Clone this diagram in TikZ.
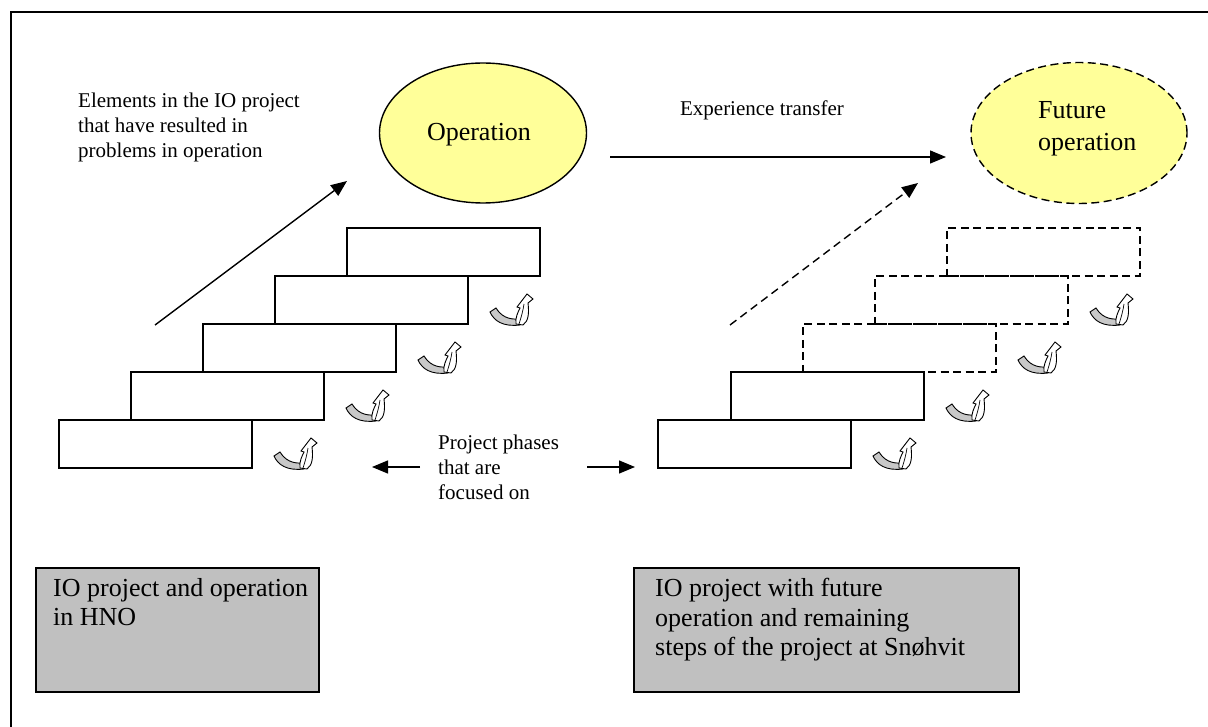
\documentclass[tikz,border=0pt]{standalone}
\usepackage{fontspec}
\setmainfont{Liberation Serif}
\usetikzlibrary{arrows.meta,shapes.geometric}

\definecolor{opyellow}{HTML}{FFFF99}
\definecolor{boxgray}{HTML}{C0C0C0}
\definecolor{ribbon}{HTML}{C8C8C8}

\newcommand{\smalltext}{\fontsize{21}{25}\selectfont}
\newcommand{\bigtext}{\fontsize{26}{29.5}\selectfont}

\tikzset{
  stepbox/.style={draw, line width=1.4pt, fill=white, minimum width=193pt,
    minimum height=48pt, anchor=north west, inner sep=0pt, outer sep=0pt},
  plannedbox/.style={stepbox, fill=none, dash pattern=on 8pt off 4.5pt},
  phase/.style={ellipse, draw, line width=1.4pt, fill=opyellow, inner sep=0pt},
  labelbox/.style={draw, line width=1.8pt, fill=boxgray, anchor=north west,
    inner sep=0pt, outer sep=0pt},
  arrowline/.style={line width=1.4pt, -{Triangle[length=16pt,width=13pt]}},
  caption/.style={align=left, inner sep=0pt, font=\smalltext},
  pics/twist/.style={code={
    % shaded underside of the ribbon
    \filldraw[fill=ribbon, line width=0.9pt]
      (22,-12) .. controls (26,-3) and (35,3) .. (52,1)
      -- (52,-5) .. controls (40,-4) and (33,-8) .. (28,-16) -- cycle;
    % upturned end of the ribbon with its arrow head
    \filldraw[fill=white, line width=0.9pt]
      (48,0) .. controls (47,-6) and (50,-12) .. (52,-16)
      -- (49,-17) -- (59,-30) -- (65,-25) -- (60,-21)
      .. controls (61,-12) and (61,-3) .. (55,1) -- cycle;
    \draw[line width=0.7pt] (51,0) .. controls (53,-6) and (55,-13) .. (56,-20);
  }},
}

\begin{document}
\begin{tikzpicture}[x=1pt, y=-1pt]
\useasboundingbox (0,0) rectangle (1208,727);

% outer frame (top and left edges)
\draw[line width=2pt] (11,727) -- (11,12) -- (1208,12);

% ---------- left staircase: HNO ----------
\node[stepbox] (l5) at (347,228) {};
\node[stepbox] (l4) at (275,276) {};
\node[stepbox] (l3) at (203,324) {};
\node[stepbox] (l2) at (131,372) {};
\node[stepbox] (l1) at (59,420) {};
\foreach \s in {l1,l2,l3,l4} \pic at (\s.south east) {twist};

% ---------- right staircase: Snøhvit ----------
\node[plannedbox] (r5) at (947,228) {};
\node[plannedbox] (r4) at (875,276) {};
\node[plannedbox] (r3) at (803,324) {};
\node[stepbox] (r2) at (731,372) {};
\node[stepbox] (r1) at (658,420) {};
\foreach \s in {r1,r2,r3,r4} \pic at (\s.south east) {twist};

% ---------- operation ellipses ----------
\node[phase, minimum width=207pt, minimum height=140pt] (op) at (483,133) {};
\node[font=\bigtext, inner sep=0pt, anchor=base] (optext) at (479,141) {Operation};

\node[phase, dash pattern=on 8pt off 4.5pt, minimum width=216pt,
      minimum height=141pt] (fop) at (1079,133) {};
\node[align=left, font=\fontsize{26}{32}\selectfont, inner sep=0pt, anchor=north west]
      (foptext) at (1038,101) {Future\\operation};

% ---------- arrows ----------
\coordinate (a1s) at (155,325);
\coordinate (a1e) at (347,181);
\draw[arrowline] (a1s) -- (a1e);

\coordinate (a2s) at (730,325);
\coordinate (a2e) at (918,183);
\draw[arrowline, dash pattern=on 8pt off 5pt] (a2s) -- (a2e);

\coordinate (xs) at (610,157);
\coordinate (xe) at (946,157);
\draw[arrowline] (xs) -- (xe);

\coordinate (pl1) at (420,467);
\coordinate (pl2) at (372,467);
\draw[arrowline] (pl1) -- (pl2);
\coordinate (pr1) at (587,467);
\coordinate (pr2) at (635,467);
\draw[arrowline] (pr1) -- (pr2);

% ---------- labels ----------
\node[caption, anchor=north west] (elements) at (78,93)
  {Elements in the IO project\\that have resulted in\\problems in operation};
\node[font=\smalltext, inner sep=0pt] (transfer) at (762,110) {Experience transfer};
\node[caption, anchor=west] (phases) at (438,467)
  {Project phases\\that are\\focused on};

% ---------- captions of the two cases ----------
\node[labelbox, minimum width=283pt, minimum height=124pt] (hno) at (36,568) {};
\node[align=left, font=\bigtext, inner sep=0pt, anchor=north west] (hnotext)
  at (53,578) {IO project and operation\\in HNO};

\node[labelbox, minimum width=385pt, minimum height=124pt] (snv) at (634,568) {};
\node[align=left, font=\bigtext, inner sep=0pt, anchor=north west] (snvtext)
  at (655,578) {IO project with future\\operation and remaining\\steps of the project at Snøhvit};
\end{tikzpicture}
\end{document}
